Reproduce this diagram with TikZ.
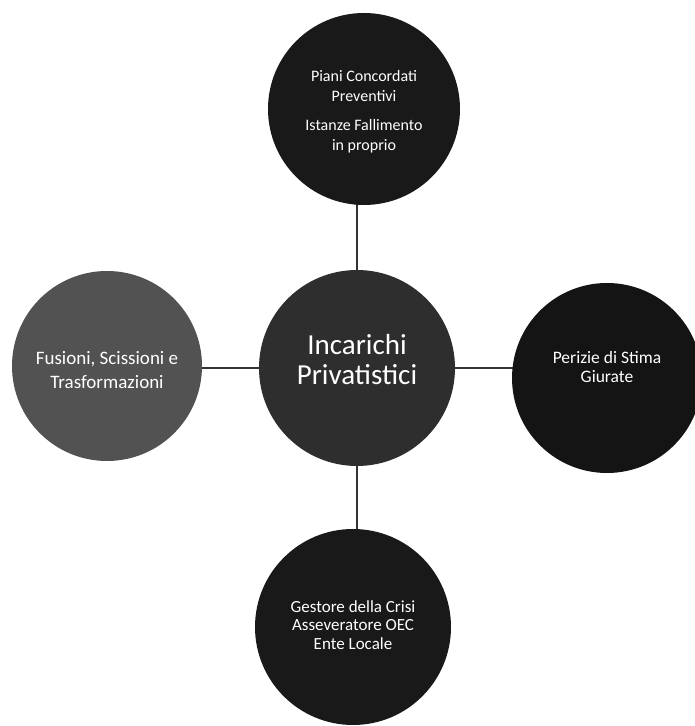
\documentclass[tikz,border=0pt]{standalone}
\usepackage{fontspec}
\setmainfont{Carlito}
\usetikzlibrary{backgrounds}
\tikzset{
  bubble/.style={circle, inner sep=0pt, minimum size=#1},
  txt/.style={text=white, align=center, inner sep=0pt},
  link/.style={draw=black!80, line width=1.1pt}
}
\begin{document}
\begin{tikzpicture}[x=1pt,y=1pt]
\useasboundingbox (0,0) rectangle (694,726);
\node[bubble=192pt, fill=black!90] (top) at (364,617) {};
\node[bubble=196pt, fill=black!82] (center) at (357,358) {};
\node[bubble=190pt, fill=black!68] (left) at (107,360) {};
\node[bubble=190pt, fill=black!92] (right) at (607,348) {};
\node[bubble=196pt, fill=black!90] (bottom) at (353,99) {};
\begin{pgfonlayer}{background}
\draw[link] (center) -- (center |- top);
\draw[link] (center) -- (center |- bottom);
\draw[link] (center) -- (center -| left);
\draw[link] (center) -- (center -| right);
\end{pgfonlayer}
\node[txt, font=\fontsize{16}{20}\selectfont] (topT) at ([yshift=-3pt]top) {Piani Concordati\\Preventivi\\[9pt]Istanze Fallimento\\in proprio};
\node[txt, font=\fontsize{29}{30}\selectfont] (centerT) at ([yshift=8pt]center) {Incarichi\\Privatistici};
\node[txt, font=\fontsize{19}{24}\selectfont] (leftT) at ([yshift=-4pt]left) {Fusioni, Scissioni e\\Trasformazioni};
\node[txt, font=\fontsize{17.5}{19}\selectfont] (rightT) at ([yshift=11pt]right) {Perizie di Stima\\Giurate};
\node[txt, font=\fontsize{17}{18.5}\selectfont] (bottomT) at ([yshift=2pt]bottom) {Gestore della Crisi\\Asseveratore OEC\\Ente Locale};
\end{tikzpicture}
\end{document}
